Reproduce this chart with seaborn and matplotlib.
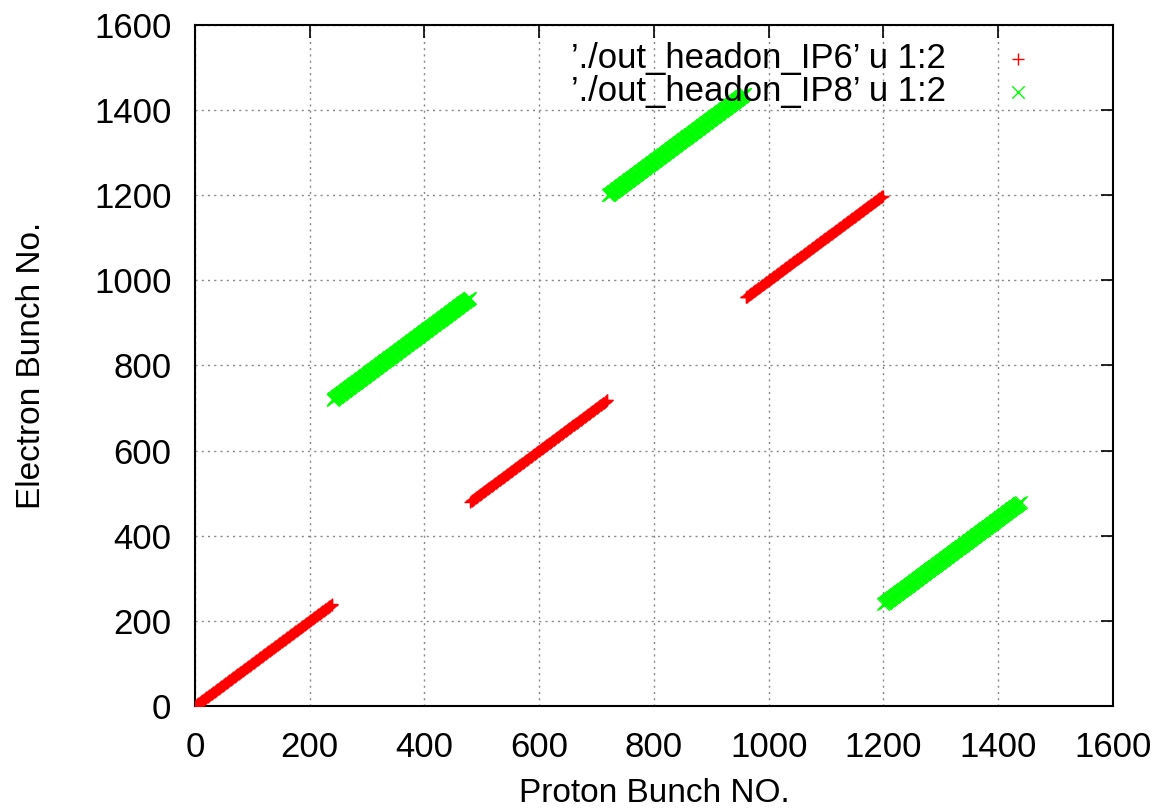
import numpy as np
import pandas as pd
import matplotlib
matplotlib.use("Agg")
import matplotlib.pyplot as plt
import seaborn as sns

# Collision pattern: each block of proton bunches meets a block of electron bunches
block_len = 240
ip6_proton_start = [0, 480, 960]
ip6_electron_start = [0, 480, 960]
ip8_proton_start = [240, 720, 1200]
ip8_electron_start = [720, 1200, 240]

ip6_label = "’./out_headon_IP6’ u 1:2"
ip8_label = "’./out_headon_IP8’ u 1:2"
x_ticks = [0, 200, 400, 600, 800, 1000, 1200, 1400, 1600]
y_ticks = [0, 200, 400, 600, 800, 1000, 1200, 1400, 1600]


def bunch_pairs(p_starts, e_starts, label):
    p = np.concatenate([np.arange(s, s + block_len) for s in p_starts])
    e = np.concatenate([np.arange(s, s + block_len) for s in e_starts])
    return pd.DataFrame({"proton": p, "electron": e, "run": label})


ip6 = bunch_pairs(ip6_proton_start, ip6_electron_start, ip6_label)
ip8 = bunch_pairs(ip8_proton_start, ip8_electron_start, ip8_label)

sns.set_style("white")
plt.rcParams["font.family"] = ["Liberation Sans", "DejaVu Sans"]
plt.rcParams["text.color"] = "black"
plt.rcParams["axes.labelcolor"] = "black"

fig = plt.figure(figsize=(11.56, 8.11), dpi=100)
ax = fig.add_axes([0.1687, 0.1295, 0.794, 0.8397])

sns.scatterplot(data=ip6, x="proton", y="electron", marker="+", s=80,
                color="#ff0000", linewidth=1.0, label=ip6_label, ax=ax, zorder=3)
sns.scatterplot(data=ip8, x="proton", y="electron", marker="x", s=80,
                color="#00ff00", linewidth=1.0, label=ip8_label, ax=ax, zorder=3)

ax.set_xlim(0, 1600)
ax.set_ylim(0, 1600)
ax.set_xticks(x_ticks)
ax.set_yticks(y_ticks)
ax.tick_params(axis="both", which="major", direction="in", length=9, width=1.2,
               top=True, right=True, labelsize=25, colors="black")
ax.tick_params(axis="x", pad=18)
ax.tick_params(axis="y", pad=17)
ax.grid(True, linestyle=(0, (1.5, 3)), color="#888888", linewidth=1.0, zorder=0)
ax.set_axisbelow(True)
for sp in ax.spines.values():
    sp.set_visible(True)
    sp.set_color("black")
    sp.set_linewidth(1.5)

ax.set_xlabel("Proton Bunch NO.", fontsize=24, labelpad=10)
ax.set_ylabel("Electron Bunch No.", fontsize=24, labelpad=34)

leg = ax.legend(loc="upper right", frameon=False, markerfirst=False, fontsize=25,
                handletextpad=1.6, borderaxespad=0.1, labelspacing=0.0,
                handlelength=1.0, bbox_to_anchor=(0.935, 1.0))
for t in leg.get_texts():
    t.set_color("black")

fig.savefig("out.png", dpi=100, facecolor="white")
